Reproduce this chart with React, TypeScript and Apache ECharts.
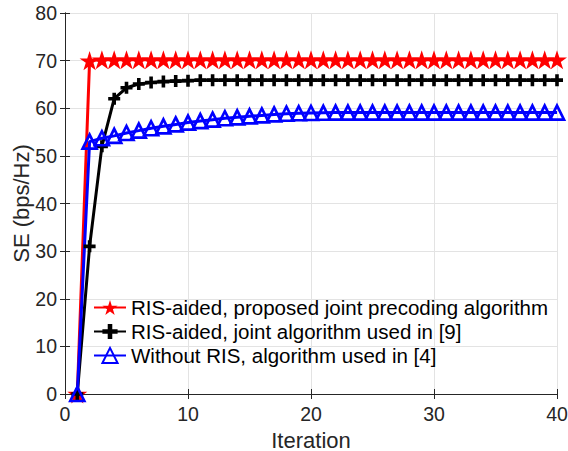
import React, { useEffect, useRef } from "react";
import * as echarts from "echarts";

const iterations = [
  1, 2, 3, 4, 5, 6, 7, 8, 9, 10, 11, 12, 13, 14, 15, 16, 17, 18, 19, 20,
  21, 22, 23, 24, 25, 26, 27, 28, 29, 30, 31, 32, 33, 34, 35, 36, 37, 38, 39, 40,
];

const proposedSE = [
  0, 70.0, 70.2, 70.2, 70.2, 70.2, 70.2, 70.2, 70.2, 70.2, 70.2, 70.2, 70.2, 70.2, 70.2, 70.2, 70.2, 70.2, 70.2, 70.2,
  70.2, 70.2, 70.2, 70.2, 70.2, 70.2, 70.2, 70.2, 70.2, 70.2, 70.2, 70.2, 70.2, 70.2, 70.2, 70.2, 70.2, 70.2, 70.2, 70.2,
];

const jointRef9SE = [
  0, 31.0, 52.0, 62.0, 64.3, 65.1, 65.4, 65.6, 65.7, 65.8, 65.9, 65.9, 65.9, 65.9, 65.9, 65.9, 65.9, 65.9, 65.9, 65.9,
  65.9, 65.9, 65.9, 65.9, 65.9, 65.9, 65.9, 65.9, 65.9, 65.9, 65.9, 65.9, 65.9, 65.9, 65.9, 65.9, 65.9, 65.9, 65.9, 65.9,
];

const withoutRisSE = [
  0, 53.0, 53.7, 54.2, 54.8, 55.3, 55.8, 56.2, 56.6, 57.0, 57.3, 57.6, 57.9, 58.1, 58.3, 58.5, 58.7, 58.85, 58.95, 59.0,
  59.05, 59.1, 59.1, 59.1, 59.1, 59.1, 59.1, 59.1, 59.1, 59.1, 59.1, 59.1, 59.1, 59.1, 59.1, 59.1, 59.1, 59.1, 59.1, 59.1,
];

const seriesNames = [
  "RIS-aided, proposed joint precoding algorithm",
  "RIS-aided, joint algorithm used in [9]",
  "Without RIS, algorithm used in [4]",
];

const xTicks = { min: 0, max: 40, interval: 10 };
const yTicks = { min: 0, max: 80, interval: 10 };

const STAR =
  "path://M50,0L61.23,34.55L97.55,34.55L68.16,55.9L79.39,90.45L50,69.1L20.61,90.45L31.84,55.9L2.45,34.55L38.77,34.55Z";
const PLUS = "path://M3.5,0H6.5V3.5H10V6.5H6.5V10H3.5V6.5H0V3.5H3.5Z";

const FONT = "'Liberation Sans', Arial, Helvetica, sans-serif";
const AXIS_COLOR = "#262626";

function pairs(ys: number[]) {
  return iterations.map((x, i) => [x, ys[i]]);
}

export default function App() {
  const ref = useRef<HTMLDivElement>(null);

  useEffect(() => {
    if (!ref.current) return;
    const chart = echarts.init(ref.current, undefined, { renderer: "svg" });

    const secondaryAxis = {
      axisLine: { show: true, lineStyle: { color: AXIS_COLOR, width: 1 } },
      axisTick: { show: true, inside: true, length: 5, lineStyle: { color: AXIS_COLOR } },
      axisLabel: { show: false },
      splitLine: { show: false },
    };

    chart.setOption({
      animation: false,
      backgroundColor: "#ffffff",
      textStyle: { fontFamily: FONT },
      grid: {
        left: 65,
        right: 11,
        top: 13,
        bottom: 57,
        containLabel: false,
        outerBoundsMode: "none",
      },
      xAxis: [
        {
          type: "value",
          ...xTicks,
          position: "bottom",
          name: "Iteration",
          nameLocation: "middle",
          nameGap: 37,
          nameMoveOverlap: false,
          nameTextStyle: { fontSize: 22, lineHeight: 18, color: AXIS_COLOR, fontFamily: FONT },
          axisLine: { show: true, onZero: false, lineStyle: { color: AXIS_COLOR, width: 1 } },
          axisTick: { show: true, inside: true, length: 5, lineStyle: { color: AXIS_COLOR } },
          axisLabel: { fontSize: 19.5, color: AXIS_COLOR, margin: 10, fontFamily: FONT },
          splitLine: { show: true, lineStyle: { color: "#e3e3e3", width: 1 } },
        },
        { type: "value", ...xTicks, position: "top", ...secondaryAxis },
      ],
      yAxis: [
        {
          type: "value",
          ...yTicks,
          position: "left",
          name: "SE (bps/Hz)",
          nameLocation: "middle",
          nameGap: 33,
          nameMoveOverlap: false,
          nameTextStyle: { fontSize: 22, color: AXIS_COLOR, fontFamily: FONT },
          axisLine: { show: true, onZero: false, lineStyle: { color: AXIS_COLOR, width: 1 } },
          axisTick: { show: true, inside: true, length: 5, lineStyle: { color: AXIS_COLOR } },
          axisLabel: { fontSize: 19.5, color: AXIS_COLOR, margin: 8, fontFamily: FONT },
          splitLine: { show: true, lineStyle: { color: "#e3e3e3", width: 1 } },
        },
        { type: "value", ...yTicks, position: "right", ...secondaryAxis },
      ],
      legend: {
        orient: "vertical",
        left: 93,
        top: 297,
        padding: 0,
        itemWidth: 32,
        itemHeight: 19,
        itemGap: 3,
        backgroundColor: "transparent",
        textStyle: { fontSize: 20.5, color: "#000000", fontFamily: FONT },
        data: seriesNames,
      },
      series: [
        {
          name: seriesNames[0],
          type: "line",
          data: pairs(proposedSE),
          symbol: STAR,
          symbolKeepAspect: true,
          symbolSize: 20,
          clip: false,
          lineStyle: { color: "#ff0000", width: 3 },
          itemStyle: { color: "#ff0000" },
        },
        {
          name: seriesNames[1],
          type: "line",
          data: pairs(jointRef9SE),
          symbol: PLUS,
          symbolSize: 12,
          clip: false,
          lineStyle: { color: "#000000", width: 3 },
          itemStyle: { color: "#000000" },
        },
        {
          name: seriesNames[2],
          type: "line",
          data: pairs(withoutRisSE),
          symbol: "triangle",
          symbolSize: 14,
          clip: false,
          lineStyle: { color: "#0000ff", width: 3 },
          itemStyle: { color: "rgba(255,255,255,0)", borderColor: "#0000ff", borderWidth: 2.7 },
        },
      ],
    });

    return () => chart.dispose();
  }, []);

  return (
    <div
      ref={ref}
      style={{ position: "fixed", left: 0, top: 0, width: 568, height: 451, background: "#fff" }}
    />
  );
}
